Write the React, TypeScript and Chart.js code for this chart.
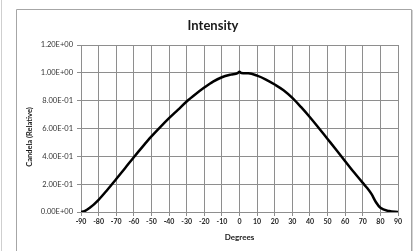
import React, { useEffect, useRef } from "react";
import { Chart, registerables } from "chart.js";

Chart.register(...registerables);

const degrees = [
  -90, -88, -85, -80, -75, -70, -65, -60, -55, -50, -45, -40, -35, -30, -25, -20, -15, -10, -5,
  -1, 0, 1, 5, 10, 15, 20, 25, 30, 35, 40, 45, 50, 55, 60, 65, 70, 72.5, 75, 77.5, 80, 85, 90,
];
const candela = [
  0.0, 0.006, 0.03, 0.088, 0.16, 0.237, 0.315, 0.394, 0.47, 0.543, 0.61, 0.674, 0.734, 0.794,
  0.846, 0.894, 0.937, 0.968, 0.987, 0.998, 1.008, 0.999, 0.997, 0.98, 0.952, 0.916, 0.875, 0.82,
  0.753, 0.681, 0.604, 0.525, 0.446, 0.365, 0.285, 0.209, 0.172, 0.128, 0.07, 0.03, 0.007, 0.0,
];

const titleText = "Intensity";
const xTitle = "Degrees";
const yTitle = "Candela (Relative)";
const xMin = -90;
const xMax = 90;
const xStep = 10;
const yMin = 0;
const yMax = 1.2;
const yStep = 0.2;

function fmtExp(v: number): string {
  const [m, e] = v.toExponential(2).split("e");
  const sign = e[0] === "-" ? "-" : "+";
  const digits = e.replace(/^[+-]/, "").padStart(2, "0");
  return `${m}E${sign}${digits}`;
}

const GRID = "#8e8e8e";
const FONT = "Lato, 'Open Sans', sans-serif";

const decor = {
  id: "decor",
  beforeDraw(chart: any) {
    const ctx = chart.ctx;
    ctx.save();
    ctx.fillStyle = "#ffffff";
    ctx.fillRect(0, 0, chart.width, chart.height);
    // faint left line
    ctx.strokeStyle = "#cfcfcf";
    ctx.lineWidth = 1;
    ctx.beginPath();
    ctx.moveTo(1.5, 0);
    ctx.lineTo(1.5, chart.height);
    ctx.stroke();
    // outer frame
    ctx.strokeStyle = "#a6a6a6";
    ctx.beginPath();
    ctx.moveTo(16.5, chart.height + 2);
    ctx.lineTo(16.5, 9.5);
    ctx.lineTo(411.5, 9.5);
    ctx.lineTo(411.5, chart.height + 2);
    ctx.stroke();
    ctx.strokeStyle = "#d4d4d4";
    ctx.beginPath();
    ctx.moveTo(412.5, 10);
    ctx.lineTo(412.5, chart.height + 2);
    ctx.stroke();
    ctx.restore();
  },
  afterDraw(chart: any) {
    const ctx = chart.ctx;
    const area = chart.chartArea;
    ctx.save();
    ctx.fillStyle = "#1a1a1a";
    ctx.textAlign = "center";
    ctx.textBaseline = "middle";
    ctx.font = `bold 13px ${FONT}`;
    ctx.fillText(titleText, 213, 26);
    ctx.font = `bold 8px ${FONT}`;
    ctx.fillText(xTitle, (area.left + area.right) / 2, 237);
    ctx.translate(30, 137);
    ctx.rotate(-Math.PI / 2);
    ctx.font = `bold 7.5px ${FONT}`;
    ctx.fillText(yTitle, 0, 0);
    ctx.restore();
  },
};

export default function App() {
  const ref = useRef<HTMLCanvasElement>(null);
  useEffect(() => {
    if (!ref.current) return;
    const chart = new Chart(ref.current, {
      type: "line",
      data: {
        datasets: [
          {
            data: degrees.map((d, i) => ({ x: d, y: candela[i] })),
            borderColor: "#000000",
            borderWidth: 2.5,
            pointRadius: 0,
            cubicInterpolationMode: "monotone",
            fill: false,
          },
        ],
      },
      options: {
        animation: false,
        responsive: false,
        maintainAspectRatio: false,
        layout: { padding: { left: 0, right: 21, top: 45, bottom: 0 } },
        plugins: {
          legend: { display: false },
          title: { display: false },
          tooltip: { enabled: false },
        },
        scales: {
          x: {
            type: "linear",
            min: xMin,
            max: xMax,
            afterFit: (s: any) => {
              s.height = 39;
            },
            ticks: {
              stepSize: xStep,
              padding: 2,
              color: "#262626",
              font: { family: FONT, size: 7, weight: "bold" },
              maxRotation: 0,
              autoSkip: false,
            },
            grid: { color: GRID, lineWidth: 1, tickLength: 4, tickColor: GRID },
            border: { color: GRID, width: 1 },
          },
          y: {
            min: yMin,
            max: yMax,
            afterFit: (s: any) => {
              s.width = 81;
            },
            ticks: {
              stepSize: yStep,
              padding: 4,
              color: "#333333",
              font: { family: FONT, size: 7.5 },
              callback: (v: any) => fmtExp(Number(v)),
            },
            grid: { color: GRID, lineWidth: 1, tickLength: 4, tickColor: GRID },
            border: { color: GRID, width: 1 },
          },
        },
      },
      plugins: [decor],
    } as any);
    return () => chart.destroy();
  }, []);
  return (
    <div style={{ position: "fixed", left: 0, top: 0, width: 419, height: 251 }}>
      <canvas ref={ref} width={419} height={251} style={{ display: "block" }} />
    </div>
  );
}
